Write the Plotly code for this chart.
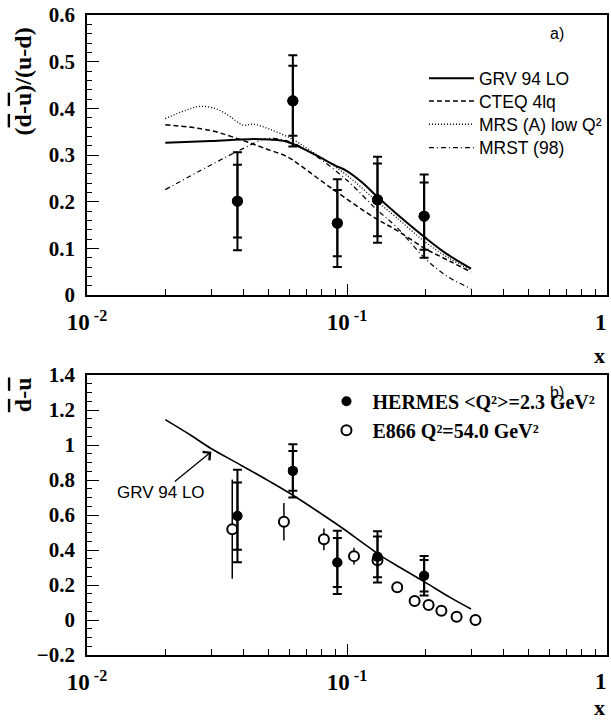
import plotly.graph_objects as go

# ---------------- data ----------------
# panel a) HERMES (dbar-ubar)/(u-d)
hx_top = [0.0379, 0.0619, 0.0918, 0.131, 0.198]
hy_top = [0.201, 0.416, 0.154, 0.204, 0.169]
hstat_top = [0.078, 0.075, 0.071, 0.078, 0.072]
htot_top = [0.105, 0.098, 0.094, 0.092, 0.089]

# parametrisations, panel a)
grv_x = [0.02, 0.03, 0.042, 0.05, 0.0591, 0.074, 0.0898, 0.0996, 0.115, 0.129, 0.155, 0.1988, 0.241, 0.3]
grv_y = [0.3265, 0.330, 0.334, 0.333, 0.328, 0.303, 0.278, 0.266, 0.240, 0.2136, 0.174, 0.124, 0.0887, 0.0566]
cteq_x = [0.02, 0.0296, 0.0398, 0.049, 0.0591, 0.066, 0.0885, 0.129, 0.155, 0.2, 0.25, 0.3]
cteq_y = [0.365, 0.353, 0.331, 0.313, 0.296, 0.278, 0.226, 0.164, 0.139, 0.0994, 0.0717, 0.049]
mrs_x = [0.02, 0.024, 0.0271, 0.031, 0.035, 0.0398, 0.0435, 0.05, 0.062, 0.074, 0.1, 0.129, 0.155, 0.2, 0.245, 0.3]
mrs_y = [0.378, 0.396, 0.404, 0.400, 0.385, 0.364, 0.366, 0.356, 0.333, 0.306, 0.2565, 0.203, 0.166, 0.1136, 0.080, 0.053]
mrst_x = [0.02, 0.0296, 0.0398, 0.049, 0.0591, 0.074, 0.1, 0.129, 0.155, 0.2, 0.245, 0.3]
mrst_y = [0.2258, 0.277, 0.3137, 0.335, 0.330, 0.302, 0.2458, 0.185, 0.1457, 0.078, 0.0386, 0.0137]

# panel b) HERMES dbar-ubar
hy_bot = [0.594, 0.852, 0.329, 0.361, 0.253]
hstat_bot = [0.192, 0.114, 0.140, 0.116, 0.090]
htot_bot = [0.264, 0.152, 0.181, 0.146, 0.113]

# panel b) E866
ex = [0.0362, 0.0572, 0.0815, 0.1064, 0.131, 0.156, 0.182, 0.206, 0.2307, 0.264, 0.312]
ey = [0.519, 0.561, 0.461, 0.365, 0.342, 0.187, 0.108, 0.086, 0.053, 0.019, 0.0]
ee = [0.283, 0.107, 0.062, 0.048, 0.040, 0.030, 0.025, 0.022, 0.020, 0.015, 0.015]

# panel b) GRV 94 LO
grvb_x = [0.02, 0.025, 0.03, 0.038, 0.05, 0.062, 0.08, 0.0965, 0.115, 0.1336, 0.16, 0.2, 0.25, 0.3]
grvb_y = [1.145, 1.057, 0.980, 0.895, 0.795, 0.713, 0.605, 0.523, 0.441, 0.371, 0.300, 0.215, 0.128, 0.063]

xtick_vals = [0.01, 0.1, 1]
xtick_text = ["10<sup> -2</sup>", "10<sup> -1</sup>", ""]
last_xtick_label = "1"   # drawn right-aligned at the frame edge so it is not cut

SERIF = "Liberation Serif, Times New Roman, serif"
SANS = "Liberation Sans, Arial, sans-serif"
BLACK = "black"

fig = go.Figure()

# ---- panel a) curves (one legend box per entry to match the row spacing) ----
fig.add_trace(go.Scatter(x=grv_x, y=grv_y, mode="lines", name="GRV 94 LO",
                         line=dict(color=BLACK, width=2, shape="spline"),
                         xaxis="x", yaxis="y", legend="legend"))
fig.add_trace(go.Scatter(x=cteq_x, y=cteq_y, mode="lines", name="CTEQ 4lq",
                         line=dict(color=BLACK, width=1.5, dash="5px,3px", shape="spline"),
                         xaxis="x", yaxis="y", legend="legend3"))
fig.add_trace(go.Scatter(x=mrs_x, y=mrs_y, mode="lines", name="MRS (A) low Q²",
                         line=dict(color=BLACK, width=1.3, dash="1px,2px", shape="spline"),
                         xaxis="x", yaxis="y", legend="legend4"))
fig.add_trace(go.Scatter(x=mrst_x, y=mrst_y, mode="lines", name="MRST (98)",
                         line=dict(color=BLACK, width=1.2, dash="5px,3px,1px,3px", shape="spline"),
                         xaxis="x", yaxis="y", legend="legend5"))

# ---- panel a) HERMES points ----
fig.add_trace(go.Scatter(x=hx_top, y=hy_top, mode="markers", showlegend=False,
                         marker=dict(color=BLACK, size=11),
                         error_y=dict(type="data", array=htot_top, color=BLACK, thickness=2, width=4.5),
                         xaxis="x", yaxis="y"))
fig.add_trace(go.Scatter(x=hx_top, y=hy_top, mode="markers", showlegend=False,
                         marker=dict(color=BLACK, size=11),
                         error_y=dict(type="data", array=hstat_top, color=BLACK, thickness=2, width=4.5),
                         xaxis="x", yaxis="y"))

# ---- panel b) ----
fig.add_trace(go.Scatter(x=grvb_x, y=grvb_y, mode="lines", showlegend=False,
                         line=dict(color=BLACK, width=1.6, shape="spline"),
                         xaxis="x2", yaxis="y2"))
fig.add_trace(go.Scatter(x=ex, y=ey, mode="markers", name="E866 Q²=54.0 GeV²",
                         marker=dict(color="white", size=10, line=dict(color=BLACK, width=2)),
                         error_y=dict(type="data", array=ee, color=BLACK, thickness=1.5, width=0),
                         xaxis="x2", yaxis="y2", legend="legend2", legendrank=2))
fig.add_trace(go.Scatter(x=hx_top, y=hy_bot, mode="markers", name="HERMES &lt;Q²&gt;=2.3 GeV²",
                         marker=dict(color=BLACK, size=10),
                         error_y=dict(type="data", array=htot_bot, color=BLACK, thickness=2, width=4.5),
                         xaxis="x2", yaxis="y2", legend="legend2", legendrank=1))
fig.add_trace(go.Scatter(x=hx_top, y=hy_bot, mode="markers", showlegend=False,
                         marker=dict(color=BLACK, size=10),
                         error_y=dict(type="data", array=hstat_bot, color=BLACK, thickness=2, width=4.5),
                         xaxis="x2", yaxis="y2"))

tickfont = dict(family=SERIF, size=21, color=BLACK, weight="bold")
xtickfont = dict(family=SERIF, size=23, color=BLACK, weight="bold")
xaxis_common = dict(type="log", range=[-2, 0], showline=True, mirror=True, linecolor=BLACK, linewidth=1.5,
                    ticks="inside", ticklen=11, tickwidth=1.2, tickcolor=BLACK,
                    tickvals=xtick_vals, ticktext=xtick_text, tickfont=xtickfont,
                    minor=dict(ticks="inside", ticklen=6, tickwidth=1.2, tickcolor=BLACK, dtick="D1", showgrid=False),
                    showgrid=False, zeroline=False, ticklabelstandoff=6,
                    automargin=False, ticklabeloverflow="allow")

top_leg_font = dict(family=SANS, size=17.5, color=BLACK)
def top_legend(y):
    return dict(x=0.648, y=y, xanchor="left", yanchor="top", bgcolor="rgba(0,0,0,0)",
                font=top_leg_font, itemwidth=45)

fig.update_layout(
    width=611, height=723,
    margin=dict(l=87, r=4, t=15, b=68, autoexpand=False),
    plot_bgcolor="white", paper_bgcolor="white",
    xaxis=dict(**xaxis_common, anchor="y"),
    yaxis=dict(domain=[0.5625, 1], range=[0, 0.6], dtick=0.1, showline=True, mirror=True,
               linecolor=BLACK, linewidth=1.5, ticks="inside", ticklen=12, tickwidth=1.2, tickcolor=BLACK,
               tickfont=tickfont, tickformat=".1~f",
               minor=dict(ticks="inside", ticklen=5, tickwidth=1.2, tickcolor=BLACK, dtick=0.02, showgrid=False),
               showgrid=False, zeroline=False, anchor="x", ticklabelstandoff=6, automargin=False),
    xaxis2=dict(**xaxis_common, anchor="y2"),
    yaxis2=dict(domain=[0, 0.4375], range=[-0.2, 1.4], dtick=0.2, showline=True, mirror=True,
                linecolor=BLACK, linewidth=1.5, ticks="inside", ticklen=12, tickwidth=1.2, tickcolor=BLACK,
                tickfont=tickfont, tickformat=".1~f",
                minor=dict(ticks="inside", ticklen=5, tickwidth=1.2, tickcolor=BLACK, dtick=0.05, showgrid=False),
                showgrid=False, zeroline=False, anchor="x2", ticklabelstandoff=6, automargin=False),
    legend=top_legend(0.9291),
    legend3=top_legend(0.8936),
    legend4=top_legend(0.8572),
    legend5=top_legend(0.8208),
    legend2=dict(x=0.449, y=0.4270, xanchor="left", yanchor="top", bgcolor="rgba(0,0,0,0)",
                 font=dict(family=SERIF, size=20, color=BLACK, weight="bold"), itemwidth=42,
                 traceorder="normal", tracegroupgap=0),
    showlegend=True,
)

ann = []
# y-axis titles
ann.append(dict(text="<b>(<span style='text-decoration:overline'>d</span>-<span style='text-decoration:overline'>u</span>)/(u-d)</b>",
                xref="paper", yref="y domain", x=-0.123, y=0.763, xanchor="center", yanchor="middle",
                textangle=-90, showarrow=False, font=dict(family=SERIF, size=24, color=BLACK)))
ann.append(dict(text="<b><span style='text-decoration:overline'>d</span>-<span style='text-decoration:overline'>u</span></b>",
                xref="paper", yref="y2 domain", x=-0.123, y=0.928, xanchor="center", yanchor="middle",
                textangle=-90, showarrow=False, font=dict(family=SERIF, size=24, color=BLACK)))
# last x tick label "1" for both panels
ann.append(dict(text=last_xtick_label, xref="paper", yref="y domain", x=1.004, y=-0.0975,
                xanchor="right", yanchor="middle", showarrow=False, font=xtickfont))
ann.append(dict(text=last_xtick_label, xref="paper", yref="y2 domain", x=1.004, y=-0.0963,
                xanchor="right", yanchor="middle", showarrow=False, font=xtickfont))
# x titles
ann.append(dict(text="<b>x</b>", xref="paper", yref="y domain", x=1.0, y=-0.215, xanchor="right", yanchor="middle",
                showarrow=False, font=dict(family=SERIF, size=22, color=BLACK)))
ann.append(dict(text="<b>x</b>", xref="paper", yref="y2 domain", x=1.0, y=-0.189, xanchor="right", yanchor="middle",
                showarrow=False, font=dict(family=SERIF, size=22, color=BLACK)))
# panel labels
ann.append(dict(text="a)", xref="paper", yref="y domain", x=(557 - 87) / 520, y=(294.7 - 33) / 280,
                xanchor="center", yanchor="middle", showarrow=False, font=dict(family=SANS, size=16, color=BLACK)))
ann.append(dict(text="b)", xref="paper", yref="y2 domain", x=(557 - 87) / 520, y=(655 - 392) / 280.3,
                xanchor="center", yanchor="middle", showarrow=False, font=dict(family=SANS, size=16, color=BLACK),
                borderpad=0))
# GRV arrow label in panel b)
ann.append(dict(text="GRV 94 LO", xref="x2", yref="y2", x=-1.5215, y=0.962,
                axref="x2", ayref="y2", ax=-1.714, ay=0.728, showarrow=True,
                arrowhead=4, arrowsize=1.6, arrowwidth=1.3, arrowcolor=BLACK, standoff=0,
                font=dict(family=SANS, size=17, color=BLACK)))
fig.update_layout(annotations=ann)

fig.write_html("out.html")
